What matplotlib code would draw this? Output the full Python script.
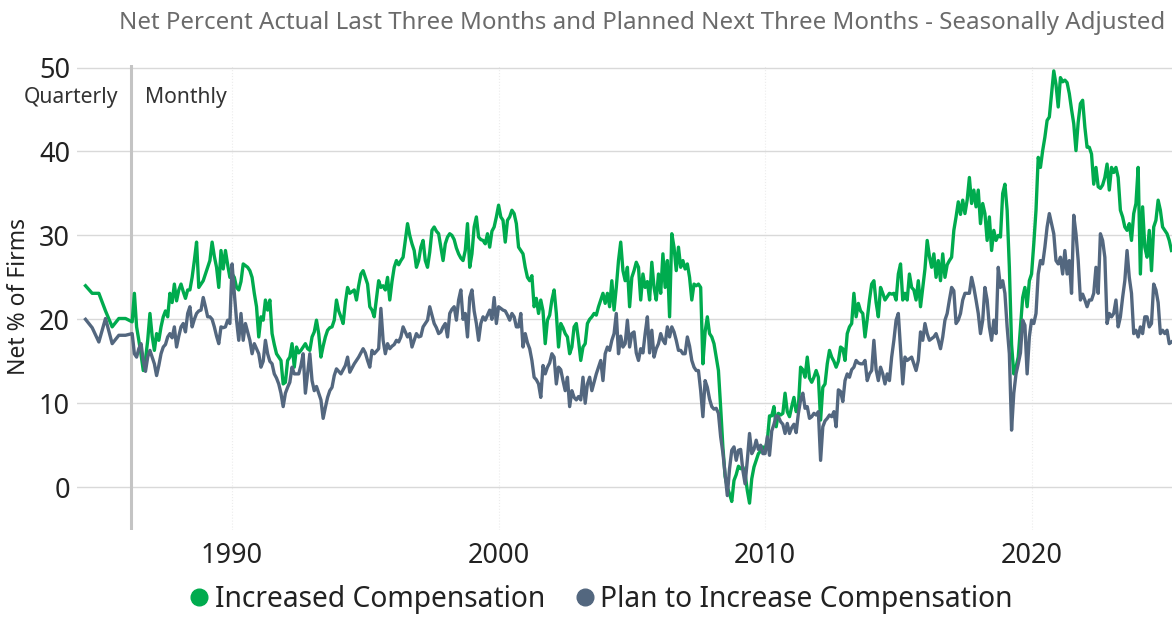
import numpy as np
import matplotlib.pyplot as plt
from matplotlib.lines import Line2D

plt.rcParams['font.family'] = ['Noto Sans', 'DejaVu Sans']

title = "Net Percent Actual Last Three Months and Planned Next Three Months - Seasonally Adjusted"
labels = ["Increased Compensation", "Plan to Increase Compensation"]
colors = ["#00ab4e", "#53677f"]
year_ticks = [1990, 2000, 2010, 2020]

# survey was quarterly at first, monthly from spring 1986
quarters = [1984.5, 1984.75, 1985.0, 1985.25, 1985.5, 1985.75, 1986.0]
increased_q = [24.0, 23.1, 23.1, 21.0, 19.1, 20.1, 20.1]
plan_q = [20.0, 19.0, 17.3, 20.1, 17.1, 18.1, 18.1]

# monthly readings, one line per year (1986 starts in April, 2025 ends in April)
increased = [
    19.7, 23.1, 19.1, 17.5, 15.8, 13.9, 15.2, 17.5, 20.7,
    18.0, 16.3, 18.3, 17.5, 19.1, 20.3, 21.0, 20.3, 23.1, 22.0, 24.2, 22.2,
    23.5, 24.2, 23.3, 22.5, 23.5, 23.5, 25.0, 27.0, 29.2, 23.8, 24.2, 24.6,
    25.4, 26.2, 27.0, 29.2, 27.5, 26.2, 23.8, 28.2, 26.0, 28.2, 26.5, 25.0,
    25.4, 25.0, 23.8, 23.5, 24.5, 26.6, 26.4, 26.2, 25.8, 25.0, 23.1, 21.5,
    17.9, 20.3, 19.9, 22.3, 21.1, 22.3, 18.3, 17.0, 15.9, 15.5, 15.1, 12.3,
    12.5, 15.1, 15.5, 17.1, 14.3, 16.7, 16.0, 16.3, 16.7, 17.1, 16.5, 16.3,
    17.9, 18.5, 19.9, 18.3, 15.5, 16.8, 17.9, 18.7, 19.0, 19.1, 19.9, 22.3,
    21.0, 20.3, 19.5, 22.0, 23.8, 23.1, 23.3, 23.5, 22.3, 24.0, 25.4, 25.8,
    25.0, 24.2, 21.5, 21.1, 20.3, 22.5, 24.6, 23.8, 24.0, 23.5, 25.0, 22.3,
    24.5, 26.2, 27.0, 26.5, 27.0, 27.4, 29.4, 31.4, 30.0, 29.0, 28.2, 26.2,
    27.0, 28.6, 29.4, 27.0, 26.2, 28.0, 30.6, 31.0, 30.5, 30.2, 28.6, 27.0,
    29.0, 29.8, 30.2, 30.0, 29.5, 28.5, 27.8, 27.3, 27.0, 28.2, 31.4, 26.2,
    27.8, 31.0, 32.2, 29.8, 29.5, 29.4, 29.0, 30.2, 28.6, 30.5, 31.0, 32.2,
    33.6, 32.2, 31.8, 29.2, 31.8, 32.2, 33.0, 32.6, 31.4, 28.6, 28.2, 27.8,
    26.2, 25.0, 24.6, 25.2, 21.5, 22.5, 20.7, 22.3, 21.0, 17.1, 19.9, 20.5,
    22.3, 23.5, 20.7, 16.7, 19.5, 19.0, 18.3, 17.9, 15.9, 16.7, 19.1, 19.5,
    17.5, 15.1, 16.7, 17.1, 19.5, 20.0, 20.3, 20.7, 20.5, 21.5, 22.3, 23.1,
    21.9, 23.1, 21.5, 24.6, 21.1, 23.8, 27.0, 29.2, 25.8, 24.6, 26.2, 21.5,
    25.0, 25.8, 26.8, 26.2, 22.3, 25.4, 23.8, 24.5, 22.3, 26.8, 23.8, 22.3,
    25.4, 23.1, 27.8, 23.8, 27.0, 20.3, 30.2, 28.6, 25.8, 28.6, 26.2, 27.0,
    26.0, 26.6, 25.0, 22.3, 24.2, 24.0, 24.2, 23.8, 14.7, 18.5, 20.3, 18.3,
    17.9, 17.1, 15.5, 13.9, 9.5, 4.8, 1.3, 0.0, -0.8, -1.7, 0.8, 1.5,
    2.5, 2.2, 2.4, 1.6, -0.4, -1.9, 1.0, 2.4, 3.2, 4.0, 4.3, 4.8,
    4.5, 5.5, 8.5, 8.5, 9.6, 7.2, 8.8, 8.6, 8.8, 11.2, 9.0, 8.4,
    9.6, 10.7, 9.0, 9.6, 14.3, 14.0, 13.1, 15.5, 13.0, 12.5, 13.1, 13.9,
    13.1, 8.0, 11.9, 12.3, 14.7, 16.3, 15.5, 15.0, 14.3, 15.0, 16.7, 16.5,
    15.1, 18.3, 19.1, 19.5, 23.1, 20.3, 21.9, 21.0, 20.7, 17.9, 20.0, 22.3,
    24.2, 24.6, 22.0, 20.3, 23.8, 23.1, 22.3, 22.7, 23.1, 23.0, 23.1, 22.3,
    25.4, 26.6, 22.3, 23.1, 22.3, 25.4, 23.8, 23.5, 22.3, 24.6, 21.5, 23.8,
    26.0, 29.4, 27.5, 26.2, 27.8, 25.0, 27.0, 24.6, 27.8, 25.0, 26.5, 27.0,
    27.4, 30.6, 32.2, 34.0, 32.5, 34.2, 32.6, 34.2, 36.9, 33.8, 35.4, 33.4,
    35.4, 31.4, 33.8, 32.6, 29.4, 32.2, 28.2, 30.6, 29.4, 30.0, 29.8, 35.0,
    36.1, 33.0, 26.2, 17.0, 13.5, 14.3, 15.5, 19.0, 22.6, 23.8, 21.5, 24.6,
    25.4, 29.0, 33.0, 39.3, 38.1, 40.1, 41.7, 43.7, 44.1, 46.9, 49.6, 48.0,
    45.3, 48.8, 48.3, 48.5, 48.2, 46.9, 45.0, 43.3, 40.1, 43.5, 45.7, 46.1,
    42.9, 40.5, 40.5, 39.7, 36.1, 38.1, 35.8, 35.6, 36.0, 36.9, 38.5, 35.4,
    38.1, 37.5, 38.1, 36.9, 33.0, 32.2, 31.0, 30.6, 31.4, 29.4, 32.6, 33.8,
    38.1, 25.4, 33.4, 28.6, 27.4, 30.6, 25.8, 31.0, 31.8, 34.2, 33.0, 31.0,
    30.6, 30.2, 29.4, 28.2,
]

plan = [
    18.3, 15.9, 15.5, 16.5, 17.1, 15.1, 13.8, 15.5, 16.3,
    15.5, 14.7, 13.3, 14.5, 15.9, 16.7, 17.0, 17.9, 18.3, 17.8, 19.1, 16.7,
    18.0, 19.1, 19.5, 18.5, 20.7, 21.5, 19.1, 20.0, 20.7, 21.0, 21.1, 22.6,
    21.5, 20.3, 20.3, 20.0, 19.1, 18.0, 17.1, 19.1, 19.0, 19.1, 19.9, 19.5,
    26.6, 23.1, 19.9, 17.5, 20.7, 17.5, 19.5, 18.5, 17.5, 15.9, 17.1, 16.5,
    15.9, 14.3, 15.0, 17.5, 15.9, 15.0, 14.7, 13.5, 13.0, 12.3, 11.2, 9.6,
    11.2, 11.9, 12.5, 14.3, 13.5, 13.5, 13.5, 14.5, 15.9, 11.2, 13.5, 15.9,
    12.7, 11.5, 12.0, 11.2, 10.4, 8.2, 9.5, 10.7, 11.5, 11.9, 13.3, 14.1,
    13.8, 13.5, 14.0, 14.5, 15.5, 13.7, 14.2, 14.7, 15.1, 15.5, 16.0, 16.5,
    16.0, 15.1, 14.3, 16.3, 15.9, 16.2, 16.5, 21.3, 17.5, 15.9, 17.1, 16.5,
    16.8, 17.0, 17.5, 17.3, 17.9, 19.1, 18.5, 17.9, 18.3, 16.7, 17.5, 18.3,
    17.9, 18.0, 19.1, 19.5, 19.9, 21.5, 20.5, 19.5, 19.0, 18.3, 18.5, 19.1,
    19.5, 17.9, 20.7, 21.2, 21.5, 19.9, 22.3, 23.5, 20.0, 20.7, 17.9, 22.6,
    23.5, 21.0, 19.5, 17.5, 19.5, 20.3, 19.9, 20.5, 21.1, 20.0, 22.6, 19.5,
    21.5, 21.3, 21.1, 21.0, 20.5, 19.9, 20.7, 20.3, 19.1, 19.1, 20.7, 16.7,
    18.3, 17.2, 16.5, 15.1, 13.1, 12.8, 12.3, 10.7, 14.5, 13.5, 14.3, 14.8,
    15.9, 15.5, 12.3, 14.3, 14.0, 12.7, 11.5, 13.1, 9.6, 11.5, 10.7, 10.4,
    10.8, 10.4, 13.1, 10.0, 12.3, 13.1, 11.5, 12.5, 13.5, 14.3, 15.1, 12.7,
    15.9, 16.7, 16.3, 17.5, 18.3, 20.7, 15.9, 18.0, 16.7, 17.1, 19.9, 16.7,
    18.3, 18.5, 16.0, 15.1, 16.5, 16.0, 18.3, 20.3, 16.0, 18.7, 15.5, 16.5,
    17.1, 18.3, 17.5, 17.1, 19.1, 17.9, 19.1, 18.5, 17.5, 16.3, 16.3, 15.9,
    15.9, 17.9, 16.8, 15.1, 14.3, 13.9, 13.9, 11.5, 8.4, 12.7, 11.9, 10.5,
    9.6, 9.3, 9.4, 8.8, 6.0, 4.1, 1.6, -1.0, 2.2, 4.4, 4.8, 3.2,
    4.4, 4.5, 2.0, 0.4, 3.2, 6.4, 4.0, 4.5, 5.6, 4.5, 5.0, 4.0,
    4.0, 6.0, 3.8, 6.7, 7.5, 8.5, 8.4, 7.8, 7.5, 6.4, 7.6, 6.4,
    7.1, 7.5, 6.5, 8.8, 10.4, 11.2, 9.4, 9.6, 8.2, 8.4, 8.8, 8.6,
    9.0, 3.2, 7.2, 7.9, 8.2, 8.6, 8.4, 9.0, 7.2, 11.6, 11.4, 10.2,
    12.7, 13.5, 13.1, 14.0, 14.3, 15.1, 14.8, 14.7, 14.7, 15.1, 12.7, 13.5,
    13.9, 17.5, 14.0, 12.7, 14.3, 13.5, 12.3, 13.5, 12.7, 15.5, 17.5, 19.9,
    20.7, 16.5, 12.3, 15.5, 15.1, 15.3, 15.5, 14.7, 13.9, 15.1, 18.5, 17.5,
    19.5, 18.3, 17.5, 17.7, 17.9, 18.3, 17.5, 16.5, 17.9, 19.9, 20.7, 22.3,
    23.8, 23.4, 19.5, 19.9, 20.7, 22.3, 23.1, 23.1, 23.1, 25.0, 23.8, 22.3,
    20.7, 18.3, 19.9, 23.8, 22.3, 19.1, 17.5, 19.9, 18.3, 26.2, 23.8, 24.6,
    23.1, 19.1, 15.9, 6.8, 11.2, 13.5, 14.7, 16.0, 19.9, 19.3, 13.5, 17.9,
    19.9, 19.5, 20.7, 25.4, 27.0, 26.6, 28.6, 31.0, 32.6, 31.4, 30.2, 27.0,
    26.6, 27.4, 25.4, 28.2, 25.4, 27.0, 23.1, 32.4, 30.2, 27.0, 22.3, 23.0,
    22.3, 21.5, 22.3, 22.3, 23.1, 26.2, 23.1, 30.2, 29.4, 27.4, 19.5, 20.7,
    20.3, 20.7, 22.3, 19.1, 20.3, 22.6, 24.6, 28.2, 25.0, 23.1, 18.3, 18.7,
    17.9, 19.1, 18.3, 20.3, 20.3, 19.1, 19.5, 24.2, 23.5, 22.0, 18.3, 18.7,
    18.3, 18.7, 17.1, 17.3,
]

switch_year = 1986.2
months = 1986.25 + np.arange(len(increased)) / 12
x = np.concatenate([quarters, months])

fig = plt.figure(figsize=(11.72, 6.18), dpi=100)
ax = fig.add_axes([0.0657, 0.1424, 0.9343, 0.7524])

for series_q, series_m, c in [(increased_q, increased, colors[0]), (plan_q, plan, colors[1])]:
    ax.plot(x, np.concatenate([series_q, series_m]), color=c, lw=2.4, solid_joinstyle='round')

ax.set_xlim(1984.18, 2025.27)
ax.set_ylim(-5.1, 50.3)
ax.set_yticks(range(0, 51, 10))
ax.set_xticks(year_ticks)
ax.grid(axis='y', color='#d9d9d9', lw=1)
ax.grid(axis='x', color='#ececec', lw=0.8, ls=':')
ax.set_axisbelow(True)
for s in ax.spines.values():
    s.set_visible(False)
ax.tick_params(length=0, labelsize=19.5, colors='#222222')
ax.tick_params(axis='x', pad=9)
ax.tick_params(axis='y', pad=5)

# divider between quarterly and monthly data
ax.axvline(switch_year, color='#c4c4c4', lw=2.2, zorder=1)
ax.annotate('Quarterly', xy=(switch_year, 46.4), xytext=(-9, 0), textcoords='offset points',
            ha='right', va='center', fontsize=15.2, color='#333333')
ax.annotate('Monthly', xy=(switch_year, 46.4), xytext=(10, 0), textcoords='offset points',
            ha='left', va='center', fontsize=15.2, color='#333333')

fig.text(0.016, 0.52, 'Net % of Firms', rotation=90, ha='center', va='center', fontsize=16.5, color='#222222')
fig.text(0.548, 0.962, title, ha='center', va='center', fontsize=17.3, color='#6b6b6b')

handles = [Line2D([], [], ls='none', marker='o', ms=12, color=c) for c in colors]
fig.legend(handles, labels, loc='center', bbox_to_anchor=(0.511, 0.03), ncol=2, frameon=False,
           fontsize=20.3, handletextpad=0.05, columnspacing=0.9, handlelength=1.0, labelcolor='#222222')

fig.savefig('out.png', dpi=100)
